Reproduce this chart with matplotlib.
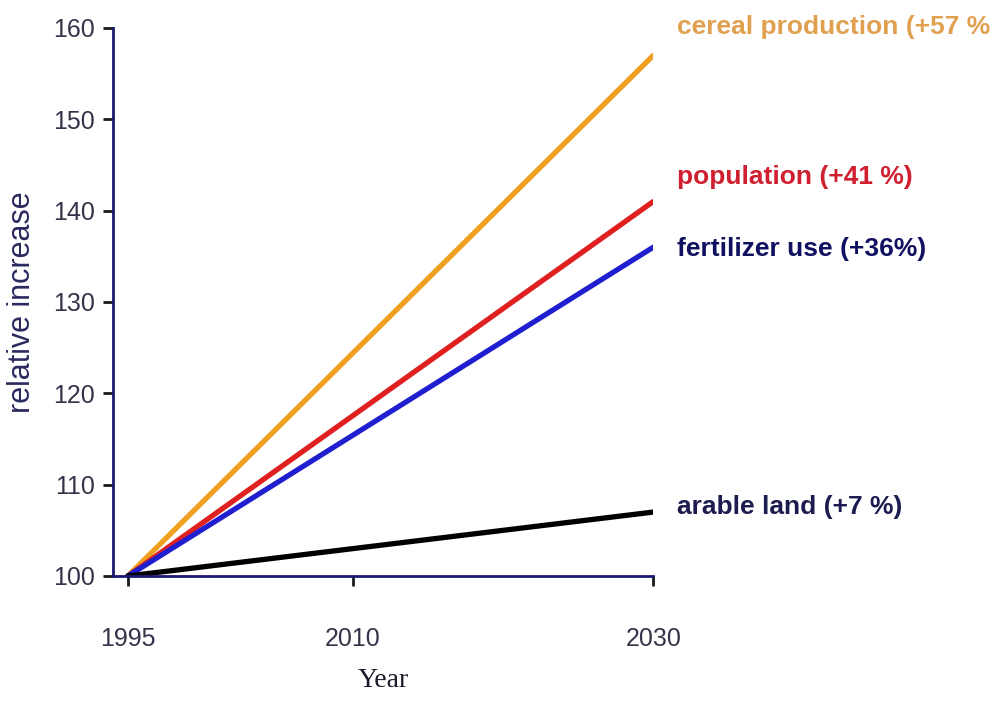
import matplotlib.pyplot as plt

years = [1995, 2030]
cereal = [100, 157]
population = [100, 141]
fertilizer = [100, 136]
arable = [100, 107]

labels = ["cereal production (+57 %", "population (+41 %)", "fertilizer use (+36%)", "arable land (+7 %)"]
label_y = [160.1, 143.7, 135.8, 107.6]

fig = plt.figure(figsize=(9.99, 7.09), dpi=100)
ax = fig.add_axes([0.113, 0.1876, 0.541, 0.773])

ax.plot(years, cereal, color="#f0a020", lw=3.8, solid_capstyle="round")
ax.plot(years, population, color="#e02020", lw=3.8, solid_capstyle="round")
ax.plot(years, fertilizer, color="#1f1fd0", lw=3.8, solid_capstyle="round")
ax.plot(years, arable, color="black", lw=3.8, solid_capstyle="round")

text_colors = ["#e0a050", "#d02030", "#101060", "#1c1c50"]
for lab, yv, c in zip(labels, label_y, text_colors):
    ax.text(2031.6, yv, lab, color=c, fontsize=19, fontweight="bold",
            family="Liberation Sans", va="center", ha="left", clip_on=False)

ax.set_xlim(1994, 2030)
ax.set_ylim(100, 160)
ax.set_xticks([1995, 2010, 2030])
ax.set_yticks([100, 110, 120, 130, 140, 150, 160])

for s in ["top", "right"]:
    ax.spines[s].set_visible(False)
for s in ["left", "bottom"]:
    ax.spines[s].set_color("#1a1a70")
    ax.spines[s].set_linewidth(2)

ax.tick_params(axis="both", colors="#1a1a1a", width=2, length=7, labelsize=18)
for t in ax.get_xticklabels() + ax.get_yticklabels():
    t.set_family("Liberation Sans")
    t.set_color("#34344a")
ax.tick_params(axis="x", pad=30)
ax.tick_params(axis="y", pad=6)

ax.set_xlabel("Year", family="Liberation Serif", fontsize=20, color="#1a1a2a", labelpad=12)
ax.set_ylabel("relative increase", family="Liberation Sans", fontsize=22, color="#2a2a60")
ax.yaxis.set_label_coords(-0.14, 0.5)

fig.savefig("out.png", dpi=100)
